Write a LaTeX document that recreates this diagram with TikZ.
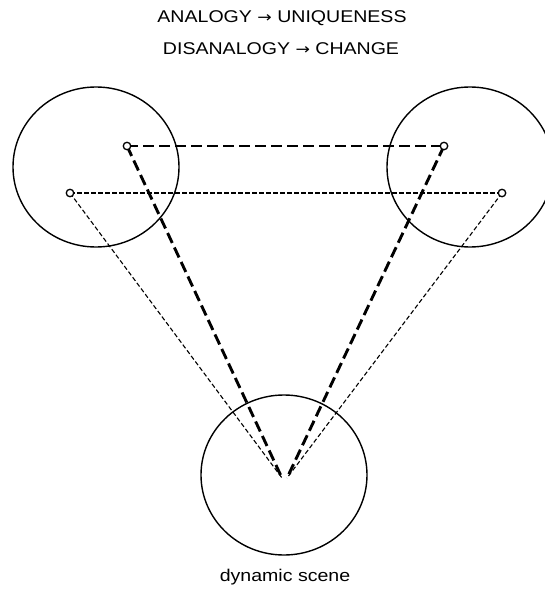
\documentclass[tikz,border=0pt]{standalone}
\usepackage{graphicx}
\usepackage{fontspec}
\setmainfont{Liberation Sans}
\newfontfamily\arrowfont{DejaVu Sans}
\usetikzlibrary{shapes.geometric}
\newcommand{\myarr}{{\arrowfont\fontsize{15pt}{17pt}\selectfont →}}
\begin{document}
\begin{tikzpicture}[x=1pt,y=-1pt,
  bigcirc/.style={draw, ellipse, line width=1.4pt, minimum width=166pt, minimum height=160pt, inner sep=0pt},
  pt/.style={draw, circle, fill=white, line width=1.3pt, minimum size=7.5pt, inner sep=0pt},
  thickdash/.style={line width=2.9pt, dash pattern=on 11pt off 5pt},
  thindash/.style={line width=1.1pt, dash pattern=on 4.5pt off 2.5pt},
  lbl/.style={font=\fontsize{17pt}{19pt}\selectfont, inner sep=0pt, anchor=base}]
\useasboundingbox (0,0) rectangle (545,594);
\node[bigcirc] (cl) at (96,167) {};
\node[bigcirc] (cr) at (470,167) {};
\node[bigcirc] (cb) at (284,475) {};
\node[lbl] (t1) at (282,23) {\scalebox{1.15}[1]{ANALOGY \myarr{} UNIQUENESS}};
\node[lbl] (t2) at (281,55) {\scalebox{1.15}[1]{DISANALOGY \myarr{} CHANGE}};
\node[lbl] (t3) at (285,581) {\scalebox{1.15}[1]{dynamic scene}};
\coordinate (apl) at (282,478);
\coordinate (apr) at (287,478);
% thin dashed triangle
\draw[thindash] (70,193) coordinate (ql) -- (502,193) coordinate (qr);
\draw[thindash] (ql) -- (apl);
\draw[thindash] (qr) -- (apr);
% thick dashed triangle
\draw[thickdash] (127,146) coordinate (pl) -- (444,146) coordinate (pr);
\draw[thickdash] (pl) -- (apl);
\draw[thickdash] (pr) -- (apr);
\node[pt] (npl) at (pl) {};
\node[pt] (npr) at (pr) {};
\node[pt] (nql) at (ql) {};
\node[pt] (nqr) at (qr) {};
\end{tikzpicture}
\end{document}
